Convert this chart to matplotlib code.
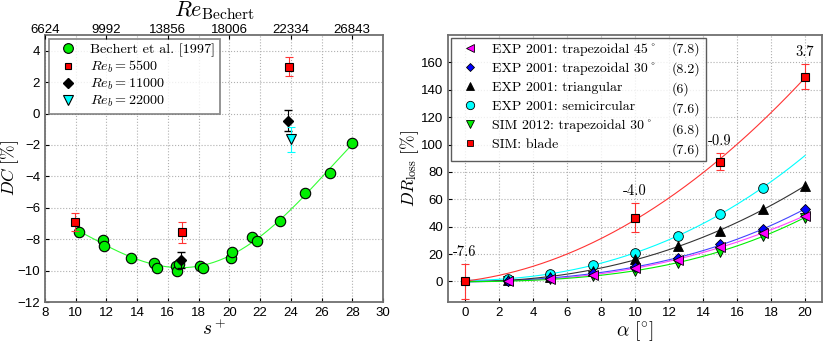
import numpy as np
import matplotlib
matplotlib.use("Agg")
import matplotlib.pyplot as plt
from matplotlib.lines import Line2D
from matplotlib.font_manager import FontProperties, findfont
from matplotlib import ft2font

plt.rcParams['font.family'] = ['Liberation Sans', 'DejaVu Sans']
plt.rcParams['mathtext.fontset'] = 'cm'

# ---- left panel: drag change vs s+ ----
bechert_s = [10.2, 11.8, 11.85, 13.6, 15.1, 15.3, 16.5, 16.6, 16.75, 18.1, 18.3,
             20.1, 20.2, 21.5, 21.8, 23.3, 24.9, 26.55, 28.0]
bechert_dc = [-7.57, -8.04, -8.43, -9.2, -9.5, -9.83, -9.72, -10.0, -9.6, -9.7, -9.83,
              -9.2, -8.8, -7.87, -8.13, -6.82, -5.08, -3.76, -1.85]

re5500_s = [9.95, 16.9, 23.9]
re5500_dc = [-6.9, -7.55, 2.98]
re5500_err = [0.57, 0.67, 0.6]

re11000_s = [16.85, 23.8]
re11000_dc = [-9.33, -0.45]
re11000_err = [0.5, 0.66]

re22000_s = [24.0]
re22000_dc = [-1.64]
re22000_err = [0.8]

top_ticks = [8, 12, 16, 20, 24, 28]
top_labels = ['6624', '9992', '13856', '18006', '22334', '26843']

# ---- right panel: DR_loss vs alpha ----
alpha_exp = [2.5, 5, 7.5, 10, 12.5, 15, 17.5, 20]
trap45 = [0.5, 2.0, 5.0, 9.5, 16.0, 25.0, 35.5, 48.0]
trap30 = [0.6, 2.5, 6.0, 10.5, 17.0, 27.0, 38.0, 53.0]
triang = [1.0, 3.5, 8.0, 16.6, 25.6, 36.6, 52.7, 69.8]
alpha_semi = [2.5, 5, 7.5, 10, 12.5, 15, 17.5]
semicirc = [2.0, 5.6, 11.7, 21.0, 33.2, 49.0, 68.5]
sim12 = [0.2, 1.5, 4.0, 8.0, 13.5, 21.5, 33.5, 46.5]
alpha_blade = [0, 10, 15, 20]
blade = [0.0, 46.5, 87.5, 149.5]
blade_err = [12.5, 10.5, 6.0, 9.0]
blade_notes = ['-7.6', '-4.0', '-0.9', '3.7']

legend_names = ['EXP 2001: trapezoidal 45°', 'EXP 2001: trapezoidal 30°',
                'EXP 2001: triangular', 'EXP 2001: semicircular',
                'SIM 2012: trapezoidal 30°', 'SIM: blade']
legend_vals = ['(7.8)', '(8.2)', '(6)', '(7.6)', '(6.8)', '(7.6)']

spine_c = '#707070'
grid_kw = dict(color='#b0b0b0', linestyle=':', linewidth=0.8)
cm_family = ['cmr10', 'DejaVu Serif']

# cmr10 has its own code layout: look up its ring glyph to stand in for the degree sign
deg = '\u00b0'
try:
    cmr = ft2font.FT2Font(findfont(FontProperties(family='cmr10')))
    for code, gi in cmr.get_charmap().items():
        if cmr.get_glyph_name(gi) in ('ring', 'degree'):
            deg = chr(code)
            break
except Exception:
    pass
legend_names = [n.replace(' 45°', ' 45' + deg).replace(' 30°', ' 30' + deg) for n in legend_names]


def style_axes(ax):
    for sp in ax.spines.values():
        sp.set_color(spine_c)
        sp.set_linewidth(1.3)
    ax.tick_params(direction='in', length=3, labelsize=9.5, colors='black')
    ax.grid(True, **grid_kw)
    ax.set_axisbelow(True)


fig = plt.figure(figsize=(8.3, 3.43), dpi=100)
ax1 = fig.add_axes([0.0542, 0.1195, 0.4072, 0.7785])
ax2 = fig.add_axes([0.5398, 0.1195, 0.4506, 0.7785])

# left
fit = np.polyfit(bechert_s, bechert_dc, 4)
xs = np.linspace(min(bechert_s), max(bechert_s), 200)
ax1.plot(xs, np.polyval(fit, xs), color='#33ff33', lw=0.8, zorder=2)
ax1.plot(bechert_s, bechert_dc, 'o', ms=7.5, mfc='#00ee00', mec='black', mew=0.8, zorder=3)
ax1.errorbar(re5500_s, re5500_dc, yerr=re5500_err, fmt='s', ms=6, mfc='red', mec='black',
             mew=0.8, ecolor='#ff3333', elinewidth=0.8, capsize=3, zorder=4)
ax1.errorbar(re11000_s, re11000_dc, yerr=re11000_err, fmt='D', ms=5, mfc='black', mec='black',
             ecolor='black', elinewidth=0.8, capsize=3, zorder=4)
ax1.errorbar(re22000_s, re22000_dc, yerr=re22000_err, fmt='v', ms=7, mfc='cyan', mec='black',
             mew=0.8, ecolor='cyan', elinewidth=0.8, capsize=3, zorder=4)
ax1.set_xlim(8, 30)
ax1.set_ylim(-12, 5)
ax1.set_xticks(range(8, 31, 2))
ax1.set_yticks(range(-12, 5, 2))
ax1.set_yticklabels(['\u2212' + str(-v) if v < 0 else str(v) for v in range(-12, 5, 2)])
style_axes(ax1)
ax1.set_xlabel(r'$s^+$', fontsize=14, labelpad=0)
ax1.set_ylabel(r'$DC\ [\%]$', fontsize=12.5)
ax1.yaxis.set_label_coords(-0.07, 0.5)

h1 = [Line2D([], [], ls='none', marker='o', ms=7, mfc='#00ee00', mec='black', mew=0.8),
      Line2D([], [], ls='none', marker='s', ms=5, mfc='red', mec='black', mew=0.8),
      Line2D([], [], ls='none', marker='D', ms=5, mfc='black', mec='black'),
      Line2D([], [], ls='none', marker='v', ms=7, mfc='cyan', mec='black', mew=0.8)]
l1 = ['Bechert et al. [1997]', r'$Re_b = 5500$', r'$Re_b = 11000$', r'$Re_b = 22000$']
leg1 = ax1.legend(h1, l1, loc='upper left', prop=FontProperties(family=cm_family, size=10.2),
                  frameon=True, fancybox=False, borderaxespad=0.3, handletextpad=0.6,
                  labelspacing=0.12, borderpad=0.3)
leg1.get_frame().set_edgecolor(spine_c)
leg1.get_frame().set_linewidth(1.3)

top = ax1.twiny()
top.set_xlim(8, 30)
top.set_xticks(top_ticks)
top.set_xticklabels(top_labels)
top.tick_params(direction='in', length=3, labelsize=9.5, pad=-1)
for sp in top.spines.values():
    sp.set_visible(False)
top.set_xlabel(r'$Re_{\mathrm{Bechert}}$', fontsize=16, labelpad=6)

# right
ac = np.linspace(0, 20, 200)
series = [
    (alpha_exp, trap45, '<', 'magenta', '#ff44ff', 7),
    (alpha_exp, trap30, 'D', 'blue', '#4444ff', 5.5),
    (alpha_exp, triang, '^', 'black', '#333333', 7),
    (alpha_semi, semicirc, 'o', 'cyan', 'cyan', 7),
    (alpha_exp, sim12, 'v', '#00ee00', '#00ee00', 7),
]
handles = []
for (xa, ya, mk, fc, lc, ms) in series:
    p = np.polyfit(xa, ya, 3)
    ax2.plot(ac, np.polyval(p, ac), color=lc, lw=0.8, zorder=2)
for (xa, ya, mk, fc, lc, ms) in series[::-1]:
    ax2.plot(xa, ya, mk, ms=ms, mfc=fc, mec='black', mew=0.6, zorder=3)
for (xa, ya, mk, fc, lc, ms) in series:
    handles.append(Line2D([], [], ls='none', marker=mk, ms=ms - 1, mfc=fc, mec='black', mew=0.6))

pb = np.polyfit(alpha_blade, blade, 2)
ax2.plot(ac, np.polyval(pb, ac), color='#ff3333', lw=0.8, zorder=2)
ax2.errorbar(alpha_blade, blade, yerr=blade_err, fmt='s', ms=6, mfc='red', mec='black',
             mew=0.8, ecolor='#ff3333', elinewidth=0.8, capsize=3, zorder=5)
handles.append(Line2D([], [], ls='none', marker='s', ms=5, mfc='red', mec='black', mew=0.6))
for a, v, e, note in zip(alpha_blade, blade, blade_err, blade_notes):
    ax2.text(a, v + e + 4, note, ha='center', va='bottom', fontsize=10.5, family=cm_family)

ax2.set_xlim(-1, 21)
ax2.set_ylim(-15, 180)
ax2.set_xticks(range(0, 21, 2))
ax2.set_yticks(range(0, 161, 20))
style_axes(ax2)
ax2.set_xlabel(r'$\alpha\ [^{\circ}]$', fontsize=14, labelpad=0)
ax2.set_ylabel(r'$DR_{\mathrm{loss}}\ [\%]$', fontsize=12.5)
ax2.yaxis.set_label_coords(-0.073, 0.5)

blank = [Line2D([], [], ls='none') for _ in legend_vals]
leg2 = ax2.legend(handles + blank, legend_names + legend_vals,
                  ncol=2, loc='upper left', prop=FontProperties(family=cm_family, size=10),
                  frameon=True, fancybox=False, borderaxespad=0.2, handletextpad=0.6,
                  labelspacing=0.45, borderpad=0.35, columnspacing=-1.6)
leg2.get_frame().set_edgecolor('#333333')
leg2.get_frame().set_linewidth(1.0)

fig.savefig('out.png', dpi=100)
